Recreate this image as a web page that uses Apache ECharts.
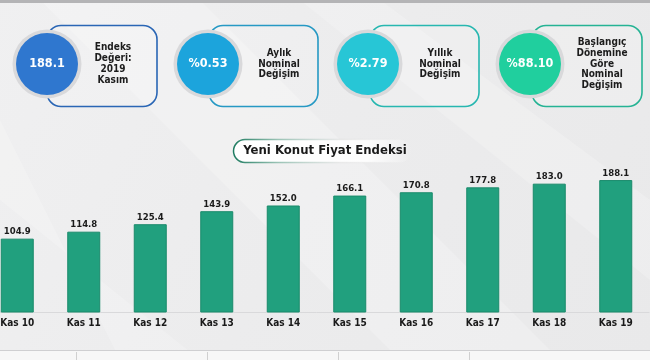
<!DOCTYPE html>
<html>
<head>
<meta charset="utf-8">
<script src="https://cdn.jsdelivr.net/npm/echarts@6/dist/echarts.min.js"></script>
<style>
html,body{margin:0;padding:0;background:#ededee;overflow:hidden;}
#chart{width:666px;height:360px;margin-left:-16px;}
</style>
</head>
<body>
<div id="chart"></div>
<script>
const categories = ['Kas 10','Kas 11','Kas 12','Kas 13','Kas 14','Kas 15','Kas 16','Kas 17','Kas 18','Kas 19'];
const values = [104.9, 114.8, 125.4, 143.9, 152.0, 166.1, 170.8, 177.8, 183.0, 188.1];
const chartTitle = 'Yeni Konut Fiyat Endeksi';
const cardValues = ['188.1', '%0.53', '%2.79', '%88.10'];
const cardLabels = [
  ['Endeks', 'Değeri:', '2019', 'Kasım'],
  ['Aylık', 'Nominal', 'Değişim'],
  ['Yıllık', 'Nominal', 'Değişim'],
  ['Başlangıç', 'Dönemine', 'Göre', 'Nominal', 'Değişim']
];

const FONT = '"DejaVu Sans Condensed", "Liberation Sans", sans-serif';
const OFFSET = 16; // container is shifted 16px to the left
const cardStyle = [
  {cx: 47,  rectX: 47,  rectW: 110, textX: 113, fill: '#2f77cf', stroke: '#2a66b5'},
  {cx: 208, rectX: 209, rectW: 109, textX: 279, fill: '#1ca4dc', stroke: '#2699c4'},
  {cx: 368, rectX: 370, rectW: 109, textX: 440, fill: '#27c6d6', stroke: '#27b7b0'},
  {cx: 530, rectX: 532, rectW: 110, textX: 602, fill: '#20cf9e', stroke: '#25b394'}
];

const items = [];
// background streaks
items.push({type:'polygon', z:-10, shape:{points:[[40,0],[200,0],[560,360],[400,360]]}, style:{fill:'rgba(255,255,255,0.22)'}});
items.push({type:'polygon', z:-10, shape:{points:[[300,0],[380,0],[650,200],[650,280]]}, style:{fill:'rgba(255,255,255,0.2)'}});
items.push({type:'polygon', z:-10, shape:{points:[[0,120],[0,200],[200,360],[120,360]]}, style:{fill:'rgba(255,255,255,0.18)'}});
// top strip
items.push({type:'rect', z:-5, shape:{x:0,y:0,width:650,height:3}, style:{fill:'#b4b4b6'}});
// bottom area
items.push({type:'rect', z:-5, shape:{x:0,y:350,width:650,height:10}, style:{fill:'#f7f7f7'}});
items.push({type:'line', z:-4, shape:{x1:0,y1:350.5,x2:650,y2:350.5}, style:{stroke:'#cfcfd1', lineWidth:1}});
[76, 207, 338, 469].forEach(x => {
  items.push({type:'line', z:-4, shape:{x1:x+0.5,y1:352,x2:x+0.5,y2:360}, style:{stroke:'#d0d0d0', lineWidth:1}});
});

// cards
cardStyle.forEach((c, i) => {
  items.push({type:'rect', shape:{x:c.rectX, y:25.5, width:c.rectW, height:81, r:14},
    style:{fill:'rgba(255,255,255,0.15)', stroke:c.stroke, lineWidth:1.6}});
  items.push({type:'circle', shape:{cx:c.cx, cy:64, r:34.5}, style:{fill:'#d9d9db'}});
  items.push({type:'circle', shape:{cx:c.cx, cy:64, r:31}, style:{fill:c.fill}});
  items.push({type:'text', x:c.cx, y:64, style:{text:cardValues[i], fill:'#ffffff',
    font:'bold 12.5px ' + FONT, textAlign:'center', textVerticalAlign:'middle'}});
  items.push({type:'text', x:c.textX, y:64, style:{text:cardLabels[i].join('\n'), fill:'#1c1c1c',
    font:'bold 10px ' + FONT, lineHeight:10.8, textAlign:'center', textVerticalAlign:'middle'}});
});

// title pill
items.push({type:'rect', shape:{x:233.5, y:139.5, width:178, height:23, r:11.5},
  style:{fill:{type:'linear', x:0, y:0, x2:1, y2:0, colorStops:[{offset:0,color:'#ffffff'},{offset:0.75,color:'rgba(255,255,255,0.9)'},{offset:1,color:'rgba(255,255,255,0)'}]},
         stroke:{type:'linear', x:0, y:0, x2:1, y2:0, colorStops:[{offset:0,color:'#1c7a5f'},{offset:0.25,color:'rgba(40,130,100,0.45)'},{offset:0.6,color:'rgba(200,200,200,0.3)'},{offset:1,color:'rgba(220,220,220,0)'}]},
         lineWidth:1.5}});
items.push({type:'text', x:325, y:151, style:{text:chartTitle, fill:'#1a1a1a',
  font:'bold 13px ' + FONT, textAlign:'center', textVerticalAlign:'middle'}});

const chart = echarts.init(document.getElementById('chart'), null, {renderer:'canvas'});
chart.setOption({
  backgroundColor: {type:'linear', x:0, y:0, x2:1, y2:1, colorStops:[{offset:0,color:'#f0f0f1'},{offset:0.5,color:'#ececed'},{offset:1,color:'#e9e9ea'}]},
  animation: false,
  graphic: [{type:'group', x:OFFSET, y:0, z:0, children: items}],
  grid: {left: 0, right: 1, top: 171.7, bottom: 47.5, containLabel: false},
  xAxis: {
    type: 'category', data: categories,
    axisLine: {show: true, lineStyle: {color: '#d9d9db', width: 1}},
    axisTick: {show: false},
    axisLabel: {color: '#1a1a1a', fontWeight: 'bold', fontSize: 10, fontFamily: FONT, margin: 6}
  },
  yAxis: {type: 'value', min: 0, max: 200, show: false, splitLine: {show: false}},
  series: [{
    type: 'bar', data: values, barWidth: 33,
    itemStyle: {color: '#21a07e', borderColor: '#1a8a6b', borderWidth: 1},
    label: {show: true, position: 'top', distance: 2, color: '#1a1a1a', fontWeight: 'bold',
      fontSize: 9.5, fontFamily: FONT, formatter: p => p.value.toFixed(1)}
  }]
});
</script>
</body>
</html>
